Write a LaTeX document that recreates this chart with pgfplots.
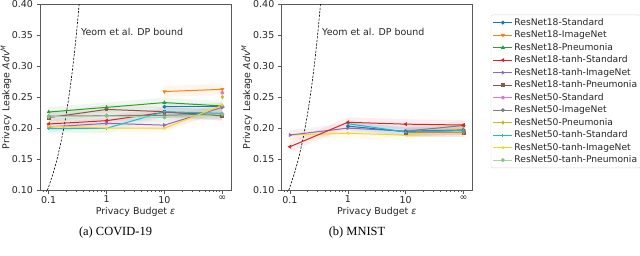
\documentclass[border=0pt]{standalone}
\usepackage{fontspec}
\setmainfont{DejaVu Sans}
\newfontfamily\capfont{Liberation Serif}
\usepackage{pgfplots}
\usepackage{pgfplotstable}
\pgfplotsset{compat=1.18}

\definecolor{tabblue}{HTML}{1F77B4}
\definecolor{taborange}{HTML}{FF7F0E}
\definecolor{tabgreen}{HTML}{2CA02C}
\definecolor{tabred}{HTML}{D62728}
\definecolor{tabpurple}{HTML}{9467BD}
\definecolor{tabbrown}{HTML}{8C564B}
\definecolor{tabpink}{HTML}{E377C2}
\definecolor{tabgray}{HTML}{7F7F7F}
\definecolor{tabolive}{HTML}{BCBD22}
\definecolor{tabcyan}{HTML}{17BECF}
\definecolor{tabgold}{HTML}{FFD21F}
\definecolor{tablgreen}{HTML}{A6D6A6}

% ---------- COVID-19 ----------
\pgfplotstableread{
x y
10 0.2344
100 0.2344
}\aBlue
\pgfplotstableread{
x y
10 0.2588
100 0.2624
}\aOrange
\pgfplotstableread{
x y
0.1 0.2258
1 0.2333
10 0.2410
100 0.2355
}\aGreen
\pgfplotstableread{
x y
0.1 0.2065
1 0.2118
10 0.2253
100 0.2210
}\aRed
\pgfplotstableread{
x y
0.1 0.2016
1 0.2075
10 0.2046
100 0.2333
}\aPurple
\pgfplotstableread{
x y
0.1 0.2167
1 0.2300
10 0.2263
100 0.2194
}\aBrown
\pgfplotstableread{
x y
100 0.2567
}\aPink
\pgfplotstableread{
x y
0.1 0.2190
1 0.2200
10 0.2205
100 0.2226
}\aGray
\pgfplotstableread{
x y
100 0.2500
}\aOlive
\pgfplotstableread{
x y
0.1 0.1990
1 0.1995
10 0.2263
100 0.2237
}\aCyan
\pgfplotstableread{
x y
0.1 0.2027
1 0.2000
10 0.1997
100 0.2366
}\aGold
\pgfplotstableread{
x y
0.1 0.2180
1 0.2195
10 0.2170
100 0.2220
}\aLgreen

% ---------- MNIST ----------
\pgfplotstableread{
x y
1 0.2030
10 0.1940
100 0.1960
}\bBlue
\pgfplotstableread{
x y
10 0.1930
100 0.1930
}\bOrange
\pgfplotstableread{
x y
0.1 0.1698
1 0.2092
10 0.2062
100 0.2048
}\bRed
\pgfplotstableread{
x y
0.1 0.1887
1 0.1998
10 0.1950
100 0.1970
}\bPurple
\pgfplotstableread{
x y
10 0.1920
100 0.1920
}\bBrown
\pgfplotstableread{
x y
10 0.1950
100 0.2040
}\bGray
\pgfplotstableread{
x y
1 0.2070
10 0.1935
100 0.1960
}\bCyan
\pgfplotstableread{
x y
0.1 0.1887
1 0.1915
10 0.1885
100 0.1995
}\bGold

\begin{document}
\begin{tikzpicture}
\useasboundingbox (0,0) rectangle (640bp,256bp);

% ---------------- left: COVID-19 ----------------
\begin{axis}[at={(40bp,66bp)}, anchor=south west,
    scale only axis, width=191bp, height=186bp,
    xmode=log, xmin=0.0708, xmax=141.25, ymin=0.10, ymax=0.40,
    xtick={0.1,1,10,100}, xticklabels={0.1,1,10,∞},
    minor xtick={0.08,0.09,0.2,0.3,0.4,0.5,0.6,0.7,0.8,0.9,2,3,4,5,6,7,8,9,20,30,40,50,60,70,80,90},
    ytick={0.10,0.15,0.20,0.25,0.30,0.35,0.40},
    yticklabel style={/pgf/number format/fixed, /pgf/number format/fixed zerofill, /pgf/number format/precision=2, /pgf/number format/assume math mode=true},
    tick align=outside, xtick pos=bottom, ytick pos=left,
    major tick length=3.5bp, minor tick length=2bp,
    axis line style={black!65, line width=0.7bp},
    tick style={black!65, line width=0.6bp},
    tick label style={font=\fontsize{9.5}{11}\selectfont, text=black!85},
    xticklabel style={yshift=1bp},
    xlabel={Privacy Budget \textit{ε}},
    ylabel={Privacy Leakage \textit{Adv}\textsuperscript{\textit{M}}},
    xlabel style={font=\fontsize{9.5}{11}\selectfont, text=black!85, at={(axis description cs:0.5,-0.118)}, anchor=center},
    ylabel style={font=\fontsize{9.5}{11}\selectfont, text=black!85, at={(axis description cs:-0.178,0.5)}, anchor=center},
    every axis plot/.append style={line width=1bp, mark size=1.4bp},
  legend cell align=left,
  legend style={at={(2.36,0.9425)}, anchor=north west, draw=black!15, rounded corners=2bp,
    fill=white, font=\fontsize{9.2}{10}\selectfont, text=black!85,
    inner xsep=2bp, inner ysep=1.5bp, row sep=0pt,
    nodes={inner sep=1.5bp, text height=7.5bp, text depth=2bp}},
  legend image code/.code={\draw[mark repeat=2,mark phase=2,#1] plot coordinates {(0bp,0bp) (9.5bp,0bp) (19bp,0bp)};},
]
% bands
\addplot[fill=tabblue, fill opacity=0.08, draw=none, forget plot] coordinates {(10,.2404)(100,.2404)(100,.2284)(10,.2284)};
\addplot[fill=taborange, fill opacity=0.08, draw=none, forget plot] coordinates {(10,.2678)(100,.2714)(100,.2534)(10,.2498)};
\addplot[fill=tabgreen, fill opacity=0.08, draw=none, forget plot] coordinates {(0.1,.2338)(1,.2413)(10,.2490)(100,.2435)(100,.2275)(10,.2330)(1,.2253)(0.1,.2178)};
\addplot[fill=tabred, fill opacity=0.08, draw=none, forget plot] coordinates {(0.1,.2145)(1,.2198)(10,.2333)(100,.2290)(100,.2130)(10,.2173)(1,.2038)(0.1,.1985)};
\addplot[fill=tabpurple, fill opacity=0.08, draw=none, forget plot] coordinates {(0.1,.2096)(1,.2155)(10,.2126)(100,.2413)(100,.2253)(10,.1966)(1,.1995)(0.1,.1936)};
\addplot[fill=tabbrown, fill opacity=0.08, draw=none, forget plot] coordinates {(0.1,.2247)(1,.2380)(10,.2343)(100,.2274)(100,.2114)(10,.2183)(1,.2220)(0.1,.2087)};
\addplot[fill=tabgray, fill opacity=0.08, draw=none, forget plot] coordinates {(0.1,.2270)(1,.2280)(10,.2285)(100,.2306)(100,.2146)(10,.2125)(1,.2120)(0.1,.2110)};
\addplot[fill=tabcyan, fill opacity=0.08, draw=none, forget plot] coordinates {(0.1,.2070)(1,.2075)(10,.2343)(100,.2317)(100,.2157)(10,.2183)(1,.1915)(0.1,.1910)};
\addplot[fill=tabgold, fill opacity=0.08, draw=none, forget plot] coordinates {(0.1,.2107)(1,.2080)(10,.2077)(100,.2446)(100,.2286)(10,.1917)(1,.1920)(0.1,.1947)};
\addplot[fill=tablgreen, fill opacity=0.08, draw=none, forget plot] coordinates {(0.1,.2260)(1,.2275)(10,.2250)(100,.2300)(100,.2140)(10,.2090)(1,.2115)(0.1,.2100)};

\addplot[black, dashed, line width=0.6bp, dash pattern=on 2.2bp off 1.4bp, mark=none, forget plot] coordinates {(0.095,0.0997) (0.1,0.1052) (0.12,0.1275) (0.14,0.1503) (0.16,0.1735) (0.18,0.1972) (0.2,0.2214) (0.22,0.2461) (0.24,0.2712) (0.26,0.2969) (0.28,0.3231) (0.30,0.3499) (0.32,0.3771) (0.34,0.4049)};

\addplot[tabblue, mark=*] table[x=x,y=y] {\aBlue};
\addlegendentry{ResNet18-Standard}
\addplot[taborange, mark=triangle*, mark options={rotate=180}] table[x=x,y=y] {\aOrange};
\addlegendentry{ResNet18-ImageNet}
\addplot[tabgreen, mark=triangle*] table[x=x,y=y] {\aGreen};
\addlegendentry{ResNet18-Pneumonia}
\addplot[tabred, mark=triangle*, mark options={rotate=90}] table[x=x,y=y] {\aRed};
\addlegendentry{ResNet18-tanh-Standard}
\addplot[tabpurple, mark=triangle*, mark options={rotate=-90}] table[x=x,y=y] {\aPurple};
\addlegendentry{ResNet18-tanh-ImageNet}
\addplot[tabbrown, mark=square*] table[x=x,y=y] {\aBrown};
\addlegendentry{ResNet18-tanh-Pneumonia}
\addplot[tabpink, mark=pentagon*] table[x=x,y=y] {\aPink};
\addlegendentry{ResNet50-Standard}
\addplot[tabgray, mark=*] table[x=x,y=y] {\aGray};
\addlegendentry{ResNet50-ImageNet}
\addplot[tabolive, mark=diamond*] table[x=x,y=y] {\aOlive};
\addlegendentry{ResNet50-Pneumonia}
\addplot[tabcyan, mark=+] table[x=x,y=y] {\aCyan};
\addlegendentry{ResNet50-tanh-Standard}
\addplot[tabgold, mark=x] table[x=x,y=y] {\aGold};
\addlegendentry{ResNet50-tanh-ImageNet}
\addplot[tablgreen, mark=*, mark options={fill=tabgreen!60, draw=tabgreen!60}] table[x=x,y=y] {\aLgreen};
\addlegendentry{ResNet50-tanh-Pneumonia}

\node[anchor=west, inner sep=0pt, font=\fontsize{9.5}{11}\selectfont, text=black!85] at (axis cs:0.36,0.355) {Yeom et al. DP bound};
\end{axis}

% ---------------- right: MNIST ----------------
\begin{axis}[at={(281.3bp,66bp)}, anchor=south west,
    scale only axis, width=191bp, height=186bp,
    xmode=log, xmin=0.0708, xmax=141.25, ymin=0.10, ymax=0.40,
    xtick={0.1,1,10,100}, xticklabels={0.1,1,10,∞},
    minor xtick={0.08,0.09,0.2,0.3,0.4,0.5,0.6,0.7,0.8,0.9,2,3,4,5,6,7,8,9,20,30,40,50,60,70,80,90},
    ytick={0.10,0.15,0.20,0.25,0.30,0.35,0.40},
    yticklabel style={/pgf/number format/fixed, /pgf/number format/fixed zerofill, /pgf/number format/precision=2, /pgf/number format/assume math mode=true},
    tick align=outside, xtick pos=bottom, ytick pos=left,
    major tick length=3.5bp, minor tick length=2bp,
    axis line style={black!65, line width=0.7bp},
    tick style={black!65, line width=0.6bp},
    tick label style={font=\fontsize{9.5}{11}\selectfont, text=black!85},
    xticklabel style={yshift=1bp},
    xlabel={Privacy Budget \textit{ε}},
    ylabel={Privacy Leakage \textit{Adv}\textsuperscript{\textit{M}}},
    xlabel style={font=\fontsize{9.5}{11}\selectfont, text=black!85, at={(axis description cs:0.5,-0.118)}, anchor=center},
    ylabel style={font=\fontsize{9.5}{11}\selectfont, text=black!85, at={(axis description cs:-0.181,0.5)}, anchor=center},
    every axis plot/.append style={line width=1bp, mark size=1.4bp},
]
\addplot[fill=tabblue, fill opacity=0.08, draw=none, forget plot] coordinates {(1,.2100)(10,.2010)(100,.2030)(100,.1890)(10,.1870)(1,.1960)};
\addplot[fill=taborange, fill opacity=0.08, draw=none, forget plot] coordinates {(10,.2000)(100,.2000)(100,.1860)(10,.1860)};
\addplot[fill=tabred, fill opacity=0.08, draw=none, forget plot] coordinates {(0.1,.1778)(1,.2172)(10,.2142)(100,.2128)(100,.1968)(10,.1982)(1,.2012)(0.1,.1618)};
\addplot[fill=tabpurple, fill opacity=0.08, draw=none, forget plot] coordinates {(0.1,.1967)(1,.2078)(10,.2030)(100,.2050)(100,.1890)(10,.1870)(1,.1918)(0.1,.1807)};
\addplot[fill=tabbrown, fill opacity=0.08, draw=none, forget plot] coordinates {(10,.1990)(100,.1990)(100,.1850)(10,.1850)};
\addplot[fill=tabgray, fill opacity=0.08, draw=none, forget plot] coordinates {(10,.2020)(100,.2110)(100,.1970)(10,.1880)};
\addplot[fill=tabcyan, fill opacity=0.08, draw=none, forget plot] coordinates {(1,.2140)(10,.2005)(100,.2030)(100,.1890)(10,.1865)(1,.2000)};
\addplot[fill=tabgold, fill opacity=0.08, draw=none, forget plot] coordinates {(0.1,.1967)(1,.1995)(10,.1965)(100,.2075)(100,.1915)(10,.1805)(1,.1835)(0.1,.1807)};

\addplot[black, dashed, line width=0.6bp, dash pattern=on 2.2bp off 1.4bp, mark=none, forget plot] coordinates {(0.095,0.0997) (0.1,0.1052) (0.12,0.1275) (0.14,0.1503) (0.16,0.1735) (0.18,0.1972) (0.2,0.2214) (0.22,0.2461) (0.24,0.2712) (0.26,0.2969) (0.28,0.3231) (0.30,0.3499) (0.32,0.3771) (0.34,0.4049)};

\addplot[tabgold, mark=x] table[x=x,y=y] {\bGold};
\addplot[tabbrown, mark=square*] table[x=x,y=y] {\bBrown};
\addplot[taborange, mark=triangle*, mark options={rotate=180}] table[x=x,y=y] {\bOrange};
\addplot[tabgray, mark=*] table[x=x,y=y] {\bGray};
\addplot[tabpurple, mark=triangle*, mark options={rotate=-90}] table[x=x,y=y] {\bPurple};
\addplot[tabblue, mark=*] table[x=x,y=y] {\bBlue};
\addplot[tabcyan, mark=+] table[x=x,y=y] {\bCyan};
\addplot[tabred, mark=triangle*, mark options={rotate=90}] table[x=x,y=y] {\bRed};

\node[anchor=west, inner sep=0pt, font=\fontsize{9.5}{11}\selectfont, text=black!85] at (axis cs:0.358,0.355) {Yeom et al. DP bound};
\end{axis}

% captions
\node[font=\capfont\fontsize{12.5}{14}\selectfont] at (115.5bp,23bp) {(a) COVID-19};
\node[font=\capfont\fontsize{12.5}{14}\selectfont] at (357bp,23bp) {(b) MNIST};
\end{tikzpicture}
\end{document}
